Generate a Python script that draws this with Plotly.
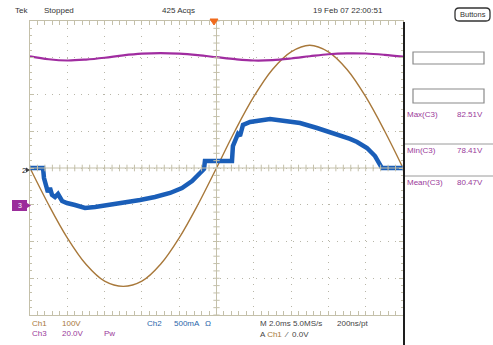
import plotly.graph_objects as go

# ---------------- data ----------------
# Ch1: line voltage, volts, vs time in ms (2 ms/div, trigger at centre)
t_ch1 = [-10, -9, -8, -7, -6, -5, -4, -3, -2, -1, 0, 1, 2, 3, 4, 5, 6, 7, 8, 9, 10]
v_ch1 = [0, -100, -190, -262, -308, -322, -308, -262, -190, -100, 0,
         102, 194, 268, 316, 334, 316, 268, 194, 102, 0]

# Ch2: input current, amps
t_ch2 = [-10.0, -9.30, -9.25, -9.14, -9.04, -8.93, -8.82, -8.66, -8.50, -8.28, -8.02,
         -7.59, -7.05, -6.51, -5.71, -4.91, -4.10, -3.30, -2.49, -1.85, -1.31, -0.88,
         -0.67, -0.62, 0.83, 0.88, 1.05, 1.15, 1.26, 1.42, 1.80, 2.33, 2.87, 3.67,
         4.48, 5.39, 6.09, 6.62, 7.16, 7.54, 8.07, 8.50, 8.77, 8.87, 10.0]
i_ch2 = [0.0, 0.0, -0.136, -0.245, -0.327, -0.272, -0.367, -0.395, -0.354, -0.449, -0.476,
         -0.503, -0.544, -0.531, -0.503, -0.476, -0.435, -0.395, -0.340, -0.272, -0.177, -0.068,
         -0.014, 0.095, 0.095, 0.299, 0.408, 0.463, 0.435, 0.585, 0.626, 0.653, 0.667, 0.639,
         0.612, 0.544, 0.490, 0.449, 0.395, 0.354, 0.272, 0.163, 0.027, 0.0, 0.0]

# Ch3: power math trace (20 V/div scale, reference one division below centre)
t_ch3 = [-10, -9, -8, -7, -6, -5, -4, -3, -2, -1, 0, 1, 2, 3, 4, 5, 6, 7, 8, 9, 10]
p_ch3 = [80.8, 79.2, 78.5, 79.0, 80.0, 81.3, 82.2, 82.5, 82.2, 81.4, 80.3,
         79.2, 78.5, 78.7, 79.6, 80.8, 81.9, 82.4, 82.3, 81.6, 80.6]

meas_labels = ["Max(C3)", "Min(C3)", "Mean(C3)"]
meas_values = ["82.51V", "78.41V", "80.47V"]

# ---------------- styling ----------------
BROWN = "#a8783a"
BLUE = "#1a5eb8"
PURPLE = "#a02ca0"
PTEXT = "#9a3a9a"
GRAT = "#c4c0aa"
FONT = "Liberation Sans"

W, H = 493, 345
L, R, T, B = 30, 403, 21, 315


def px(x):
    return (x - L) / (R - L)


def py(y):
    return (B - y) / (B - T)


fig = go.Figure()
fig.add_trace(go.Scatter(x=t_ch1, y=v_ch1, mode="lines", yaxis="y",
                         line=dict(color=BROWN, width=1.4, shape="spline"),
                         hoverinfo="skip", showlegend=False))
fig.add_trace(go.Scatter(x=t_ch3, y=p_ch3, mode="lines", yaxis="y3",
                         line=dict(color=PURPLE, width=2.2, shape="spline"),
                         hoverinfo="skip", showlegend=False))
fig.add_trace(go.Scatter(x=t_ch2, y=i_ch2, mode="lines", yaxis="y2",
                         line=dict(color=BLUE, width=4.5),
                         hoverinfo="skip", showlegend=False))

shapes = []
# centre crosshair with minor ticks
shapes.append(dict(type="line", xref="x", yref="paper", x0=0, x1=0, y0=0, y1=1,
                   line=dict(color=GRAT, width=1)))
shapes.append(dict(type="line", xref="paper", yref="y", x0=0, x1=1, y0=0, y1=0,
                   line=dict(color=GRAT, width=1)))
path = ""
for k in range(-25, 26):
    xv = k * 0.4
    path += f"M{xv},-9 L{xv},9 "
shapes.append(dict(type="path", xref="x", yref="y", path=path, line=dict(color=GRAT, width=1)))
path = ""
for k in range(-20, 21):
    yv = k * 20
    path += f"M-0.17,{yv} L0.17,{yv} "
shapes.append(dict(type="path", xref="x", yref="y", path=path, line=dict(color=GRAT, width=1)))

# right heavy border line
shapes.append(dict(type="line", xref="paper", yref="paper", x0=px(404), x1=px(404),
                   y0=py(345), y1=py(22), line=dict(color="#1e1e1e", width=2)))
# empty readout boxes
for (y0, y1) in [(52, 64), (89, 103)]:
    shapes.append(dict(type="rect", xref="paper", yref="paper", x0=px(413), x1=px(484),
                       y0=py(y1), y1=py(y0), fillcolor="white",
                       line=dict(color="#8a8a8a", width=1.2)))
# separator lines in readout panel
for yy in [144, 176]:
    shapes.append(dict(type="line", xref="paper", yref="paper", x0=px(405), x1=px(493),
                       y0=py(yy), y1=py(yy), line=dict(color="#9a9a9a", width=1)))
# "Buttons" rounded box
bx0, bx1, by0, by1, rr = 455, 490, 8, 21, 4
shapes.append(dict(type="path", xref="paper", yref="paper",
                   path=(f"M{px(bx0+rr)},{py(by0)} L{px(bx1-rr)},{py(by0)} "
                         f"Q{px(bx1)},{py(by0)} {px(bx1)},{py(by0+rr)} "
                         f"L{px(bx1)},{py(by1-rr)} Q{px(bx1)},{py(by1)} {px(bx1-rr)},{py(by1)} "
                         f"L{px(bx0+rr)},{py(by1)} Q{px(bx0)},{py(by1)} {px(bx0)},{py(by1-rr)} "
                         f"L{px(bx0)},{py(by0+rr)} Q{px(bx0)},{py(by0)} {px(bx0+rr)},{py(by0)} Z"),
                   fillcolor="white", line=dict(color="#333333", width=1.3)))
# trigger marker (orange)
shapes.append(dict(type="path", xref="paper", yref="paper",
                   path=f"M{px(210)},{py(19)} L{px(218)},{py(19)} L{px(214)},{py(25)} Z",
                   fillcolor="#f06a1c", line=dict(color="#f06a1c", width=1)))
# ch3 marker box
shapes.append(dict(type="rect", xref="paper", yref="paper", x0=px(12), x1=px(27),
                   y0=py(211), y1=py(200), fillcolor="#9b2d9b", line=dict(width=0)))
shapes.append(dict(type="path", xref="paper", yref="paper",
                   path=f"M{px(27)},{py(203)} L{px(31)},{py(205.5)} L{px(27)},{py(208)} Z",
                   fillcolor="#9b2d9b", line=dict(width=0)))
# ch2 marker arrow
shapes.append(dict(type="path", xref="paper", yref="paper",
                   path=f"M{px(26)},{py(167.5)} L{px(30)},{py(170)} L{px(26)},{py(172.5)} Z",
                   fillcolor="#404040", line=dict(width=0)))

ann = []


def txt(x, y, s, color, anchor="left", size=8, **kw):
    d = dict(x=px(x), y=py(y), xref="paper", yref="paper", text=s, showarrow=False,
             xanchor=anchor, yanchor="middle",
             font=dict(color=color, size=size, family=FONT))
    d.update(kw)
    ann.append(d)


txt(13, 10, "Tek", "#333333")
txt(42, 10, "Stopped", "#333333")
txt(160, 10, "425 Acqs", "#333333")
txt(311, 10, "19 Feb 07 22:00:51", "#333333")
txt(472.5, 14.5, "Buttons", "#333333", anchor="center", size=7.5)

txt(30, 323, "Ch1", BROWN)
txt(60, 323, "100V", BROWN)
txt(145, 323, "Ch2", "#2a66aa")
txt(172, 323, "500mA", "#2a66aa")
txt(203, 323, "Ω", "#2a66aa")
txt(30, 333, "Ch3", PTEXT)
txt(60, 333, "20.0V", PTEXT)
txt(102, 333, "Pw", PTEXT)
txt(258, 323, "M 2.0ms 5.0MS/s", "#444444")
txt(335, 323, "200ns/pt", "#444444")
txt(258, 334, "A <span style='color:%s'>Ch1</span>  ⁄  0.0V" % BROWN, "#444444")

txt(24, 170, "2", "#222222", anchor="center")
txt(19.5, 205.5, "3", "white", anchor="center", size=7)

for lab, val, yy in zip(meas_labels, meas_values, [114, 150, 182]):
    txt(405, yy, lab, PTEXT)
    txt(455, yy, val, PTEXT)

axis_common = dict(showline=True, linecolor=GRAT, linewidth=1, mirror="allticks",
                   ticks="inside", ticklen=4, tickcolor=GRAT, showticklabels=False,
                   zeroline=False, showgrid=True, gridcolor="#b8b6a8", gridwidth=1,
                   griddash="1px,6.3px", fixedrange=True)

fig.update_layout(
    width=W, height=H,
    margin=dict(l=L, r=W - R, t=T, b=H - B),
    paper_bgcolor="white", plot_bgcolor="white",
    showlegend=False,
    xaxis=dict(range=[-10, 10], dtick=2, tick0=0,
               minor=dict(dtick=0.4, ticklen=2, tickcolor=GRAT, ticks="inside", showgrid=False),
               **axis_common),
    yaxis=dict(range=[-400, 400], dtick=100, tick0=0,
               minor=dict(dtick=20, ticklen=2, tickcolor=GRAT, ticks="inside", showgrid=False),
               **axis_common),
    yaxis2=dict(range=[-2, 2], overlaying="y", visible=False, fixedrange=True),
    yaxis3=dict(range=[-60, 100], overlaying="y", visible=False, fixedrange=True),
    shapes=shapes,
    annotations=ann,
)

fig.write_html("out.html", config={"displayModeBar": False},
               post_script="document.body.style.margin='0px';document.body.style.overflow='hidden';")
